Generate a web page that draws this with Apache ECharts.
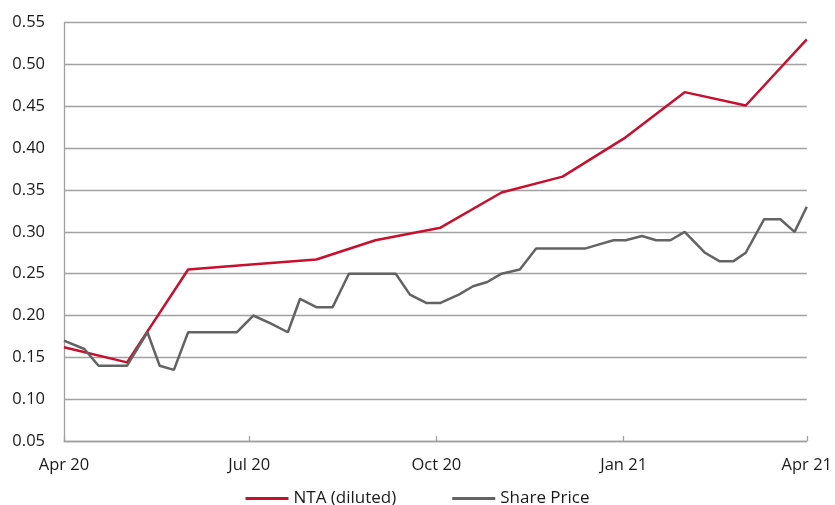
<!DOCTYPE html>
<html>
<head>
<meta charset="utf-8">
<script src="https://cdn.jsdelivr.net/npm/echarts@6/dist/echarts.min.js"></script>
<style>
html,body{margin:0;padding:0;background:#fff;}
#chart{width:835px;height:505px;}
</style>
</head>
<body>
<div id="chart"></div>
<script>
// ---- Data ----
var ntaDates = ['2020-04-01','2020-05-02','2020-06-01','2020-07-02','2020-08-03','2020-09-01','2020-10-03','2020-11-02','2020-12-02','2021-01-02','2021-01-31','2021-03-02','2021-04-01'];
var ntaValues = [0.162,0.144,0.255,0.261,0.267,0.290,0.305,0.347,0.366,0.413,0.467,0.451,0.530];

var priceDates = ['2020-04-01','2020-04-11','2020-04-18','2020-05-02','2020-05-12','2020-05-18','2020-05-25','2020-06-01','2020-06-25','2020-07-03',
  '2020-07-12','2020-07-20','2020-07-26','2020-08-03','2020-08-11','2020-08-19','2020-09-11','2020-09-18','2020-09-26','2020-10-03',
  '2020-10-12','2020-10-19','2020-10-26','2020-11-02','2020-11-11','2020-11-19','2020-12-13','2020-12-20','2020-12-27','2021-01-02',
  '2021-01-10','2021-01-17','2021-01-24','2021-01-31','2021-02-10','2021-02-17','2021-02-24','2021-03-02','2021-03-11','2021-03-19',
  '2021-03-26','2021-04-01'];
var priceValues = [0.170,0.160,0.140,0.140,0.180,0.140,0.135,0.180,0.180,0.200,
  0.190,0.180,0.220,0.210,0.210,0.250,0.250,0.225,0.215,0.215,
  0.225,0.235,0.240,0.250,0.255,0.280,0.280,0.285,0.290,0.290,
  0.295,0.290,0.290,0.300,0.275,0.265,0.265,0.275,0.315,0.315,
  0.300,0.330];

var xTickDates = ['2020-04-01','2020-07-01','2020-10-01','2021-01-01','2021-04-01'];
var xTickLabels = ['Apr 20','Jul 20','Oct 20','Jan 21','Apr 21'];
var seriesNames = ['NTA (diluted)','Share Price'];

// ---- Chart ----
var DAY = 86400000;
function toTime(s){ var p = s.split('-'); return Date.UTC(+p[0], +p[1]-1, +p[2]); }
var origin = toTime(xTickDates[0]);
function toDay(s){ return Math.round((toTime(s) - origin) / DAY); }
var tickDays = xTickDates.map(toDay);
function pairs(d, v){ return d.map(function(x,i){ return [toDay(x), v[i]]; }); }

var chart = echarts.init(document.getElementById('chart'), null, {renderer:'canvas'});
var font = "'Open Sans', sans-serif";
chart.setOption({
  animation: false,
  backgroundColor: '#ffffff',
  grid: { left: 64, right: 26, top: 22.7, bottom: 64, containLabel: false },
  legend: {
    data: seriesNames,
    top: 485,
    left: 'center',
    itemGap: 56,
    itemWidth: 43,
    itemHeight: 3,
    icon: 'rect',
    textStyle: { fontFamily: font, fontSize: 17, color: '#1a1a1a' }
  },
  xAxis: {
    type: 'value',
    min: tickDays[0],
    max: tickDays[tickDays.length-1],
    axisLine: { show: true, lineStyle: { color: '#a0a0a0', width: 1.3 } },
    axisTick: { show: true, inside: true, length: 5, customValues: tickDays, lineStyle: { color: '#a0a0a0', width: 1.3 } },
    axisLabel: {
      customValues: tickDays,
      margin: 16,
      fontFamily: font, fontSize: 16.5, color: '#1a1a1a',
      formatter: function(v){
        var i = tickDays.indexOf(Math.round(v));
        return i >= 0 ? xTickLabels[i] : '';
      }
    },
    splitLine: { show: false }
  },
  yAxis: {
    type: 'value',
    min: 0.05,
    max: 0.55,
    interval: 0.05,
    axisLine: { show: true, lineStyle: { color: '#a0a0a0', width: 1.3 } },
    axisTick: { show: false },
    axisLabel: {
      margin: 19,
      fontFamily: font, fontSize: 16.5, color: '#1a1a1a',
      formatter: function(v){ return v.toFixed(2); }
    },
    splitLine: { show: true, lineStyle: { color: '#a0a0a0', width: 1.3 } }
  },
  series: [
    {
      name: seriesNames[0], type: 'line', data: pairs(ntaDates, ntaValues),
      symbol: 'none', color: '#c8102e',
      lineStyle: { color: '#c8102e', width: 2.5 }
    },
    {
      name: seriesNames[1], type: 'line', data: pairs(priceDates, priceValues),
      symbol: 'none', color: '#636363',
      lineStyle: { color: '#636363', width: 2.5 }
    }
  ]
});
</script>
</body>
</html>
